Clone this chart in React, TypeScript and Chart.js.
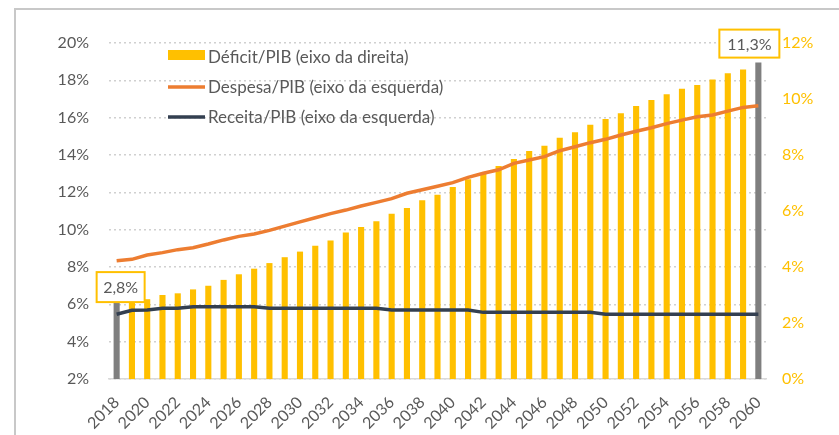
import React, { useEffect, useRef } from "react";
import { Chart, registerables } from "chart.js";

Chart.register(...registerables);

const years: string[] = [
  "2018", "2019", "2020", "2021", "2022", "2023", "2024", "2025", "2026", "2027",
  "2028", "2029", "2030", "2031", "2032", "2033", "2034", "2035", "2036", "2037",
  "2038", "2039", "2040", "2041", "2042", "2043", "2044", "2045", "2046", "2047",
  "2048", "2049", "2050", "2051", "2052", "2053", "2054", "2055", "2056", "2057",
  "2058", "2059", "2060",
];

// Déficit/PIB (right axis, %)
const deficit: number[] = [
  2.8, 2.85, 2.85, 3.0, 3.06, 3.2, 3.33, 3.54, 3.74, 3.94,
  4.14, 4.35, 4.55, 4.76, 4.95, 5.23, 5.43, 5.63, 5.9, 6.11,
  6.38, 6.58, 6.86, 7.13, 7.33, 7.61, 7.86, 8.14, 8.33, 8.62,
  8.81, 9.08, 9.29, 9.49, 9.75, 9.96, 10.17, 10.37, 10.5, 10.7,
  10.92, 11.05, 11.3,
];

// Despesa/PIB (left axis, %)
const despesa: number[] = [
  8.33, 8.41, 8.64, 8.77, 8.93, 9.03, 9.23, 9.45, 9.64, 9.77,
  9.96, 10.19, 10.42, 10.64, 10.86, 11.05, 11.27, 11.46, 11.66, 11.95,
  12.14, 12.33, 12.52, 12.8, 13.02, 13.21, 13.55, 13.73, 13.91, 14.23,
  14.44, 14.66, 14.84, 15.07, 15.27, 15.46, 15.68, 15.87, 16.05, 16.14,
  16.35, 16.55, 16.64,
];

// Receita/PIB (left axis, %)
const receita: number[] = [
  5.47, 5.68, 5.7, 5.79, 5.79, 5.87, 5.87, 5.87, 5.87, 5.87,
  5.79, 5.79, 5.79, 5.79, 5.79, 5.79, 5.79, 5.79, 5.7, 5.7,
  5.7, 5.7, 5.7, 5.7, 5.57, 5.57, 5.57, 5.57, 5.57, 5.57,
  5.57, 5.57, 5.47, 5.47, 5.47, 5.47, 5.47, 5.47, 5.47, 5.47,
  5.47, 5.47, 5.47,
];

const leftTicks = { min: 2, max: 20, step: 2 };
const rightTicks = { min: 0, max: 12, step: 2 };

const labels = {
  deficit: "Déficit/PIB (eixo da direita)",
  despesa: "Despesa/PIB (eixo da esquerda)",
  receita: "Receita/PIB (eixo da esquerda)",
};

const YELLOW = "#FFC000";
const ORANGE = "#ED7D31";
const NAVY = "#333F50";
const GREY_BAR = "#7F7F7F";
const TEXT = "#595959";
const FONT = "Lato, 'Open Sans', sans-serif";

const legendPlugin = {
  id: "customLegend",
  afterDraw(chart: any) {
    const ctx = chart.ctx;
    ctx.save();
    ctx.font = `17px ${FONT}`;
    ctx.fillStyle = TEXT;
    ctx.textBaseline = "middle";
    ctx.textAlign = "left";
    const x0 = 168;
    const x1 = 205;
    // bar item
    ctx.fillStyle = YELLOW;
    ctx.fillRect(x0, 50, x1 - x0, 10);
    ctx.fillStyle = TEXT;
    ctx.fillText(chart.data.datasets[2].label, 208, 58);
    // despesa
    ctx.strokeStyle = ORANGE;
    ctx.lineWidth = 3.5;
    ctx.beginPath();
    ctx.moveTo(x0, 87);
    ctx.lineTo(x1, 87);
    ctx.stroke();
    ctx.fillText(chart.data.datasets[0].label, 208, 88);
    // receita
    ctx.strokeStyle = NAVY;
    ctx.beginPath();
    ctx.moveTo(x0, 117);
    ctx.lineTo(x1, 117);
    ctx.stroke();
    ctx.fillText(chart.data.datasets[1].label, 208, 118);
    ctx.restore();
  },
};

const calloutPlugin = {
  id: "callouts",
  afterDraw(chart: any) {
    const meta = chart.getDatasetMeta(2);
    const data = chart.data.datasets[2].data as number[];
    const ctx = chart.ctx;
    const fmt = (v: number) => v.toFixed(1).replace(".", ",") + "%";
    const draw = (idx: number, dx: number, w: number, h: number, gap: number) => {
      const el = meta.data[idx];
      if (!el) return;
      const left = el.x + dx;
      const bottom = el.y - gap;
      const top = bottom - h;
      ctx.save();
      ctx.fillStyle = "#FFFFFF";
      ctx.fillRect(left, top, w, h);
      ctx.strokeStyle = YELLOW;
      ctx.lineWidth = 2;
      ctx.strokeRect(left, top, w, h);
      ctx.fillStyle = TEXT;
      ctx.font = `16px ${FONT}`;
      ctx.textAlign = "center";
      ctx.textBaseline = "middle";
      ctx.fillText(fmt(data[idx]), left + w / 2, top + h / 2 + 1);
      ctx.restore();
    };
    draw(0, -20, 48, 30, -1.5);
    draw(data.length - 1, -39, 60, 28, 5);
  },
};

export default function App() {
  const ref = useRef<HTMLCanvasElement | null>(null);

  useEffect(() => {
    if (!ref.current) return;
    const last = deficit.length - 1;
    const chart = new Chart(ref.current, {
      type: "bar",
      data: {
        labels: years,
        datasets: [
          {
            type: "line",
            label: labels.despesa,
            data: despesa,
            yAxisID: "y",
            borderColor: ORANGE,
            backgroundColor: ORANGE,
            borderWidth: 3.5,
            pointRadius: 0,
            tension: 0,
            order: 1,
          },
          {
            type: "line",
            label: labels.receita,
            data: receita,
            yAxisID: "y",
            borderColor: NAVY,
            backgroundColor: NAVY,
            borderWidth: 3.5,
            pointRadius: 0,
            tension: 0,
            order: 0,
          },
          {
            type: "bar",
            label: labels.deficit,
            data: deficit,
            yAxisID: "y1",
            backgroundColor: deficit.map((_, i) => (i === 0 || i === last ? GREY_BAR : YELLOW)),
            barPercentage: 0.4,
            categoryPercentage: 1,
            order: 2,
          },
        ],
      } as any,
      options: {
        animation: false,
        responsive: false,
        maintainAspectRatio: false,
        layout: { padding: { top: 43, left: 0, right: 0, bottom: 0 } },
        plugins: {
          legend: { display: false },
          tooltip: { enabled: false },
        },
        scales: {
          x: {
            offset: true,
            grid: { display: false },
            border: { display: true, color: "#D9D9D9", width: 1.5 },
            ticks: {
              autoSkip: false,
              maxRotation: 45,
              minRotation: 45,
              color: TEXT,
              font: { family: FONT, size: 16 },
              padding: 6,
              callback: (_v: any, i: number) => (i % 2 === 0 ? years[i] : ""),
            },
            afterFit: (s: any) => {
              s.height = 56;
            },
          },
          y: {
            position: "left",
            min: leftTicks.min,
            max: leftTicks.max,
            grid: { color: "#D0D0D0", lineWidth: 1.5, drawTicks: false },
            border: { display: false, dash: [2, 3] },
            ticks: {
              stepSize: leftTicks.step,
              color: TEXT,
              font: { family: FONT, size: 16 },
              padding: 20,
              callback: (v: any) => v + "%",
            },
            afterFit: (s: any) => {
              s.width = 109;
            },
          },
          y1: {
            position: "right",
            min: rightTicks.min,
            max: rightTicks.max,
            grid: { display: false, drawTicks: false },
            border: { display: false },
            ticks: {
              stepSize: rightTicks.step,
              color: YELLOW,
              font: { family: FONT, size: 16 },
              padding: 16,
              callback: (v: any) => v + "%",
            },
            afterFit: (s: any) => {
              s.width = 73;
            },
          },
        },
      } as any,
      plugins: [legendPlugin, calloutPlugin],
    });
    return () => chart.destroy();
  }, []);

  return (
    <div
      style={{
        position: "fixed",
        left: 0,
        top: 0,
        width: 839,
        height: 435,
        background: "#FFFFFF",
        overflow: "hidden",
      }}
    >
      <div
        style={{
          position: "absolute",
          left: 14,
          top: 8,
          width: 840,
          height: 440,
          borderLeft: "2px solid #C8C8C8",
          borderTop: "2px solid #C8C8C8",
        }}
      />
      <canvas
        ref={ref}
        width={839}
        height={435}
        style={{ position: "absolute", left: 0, top: 0, width: 839, height: 435 }}
      />
    </div>
  );
}
